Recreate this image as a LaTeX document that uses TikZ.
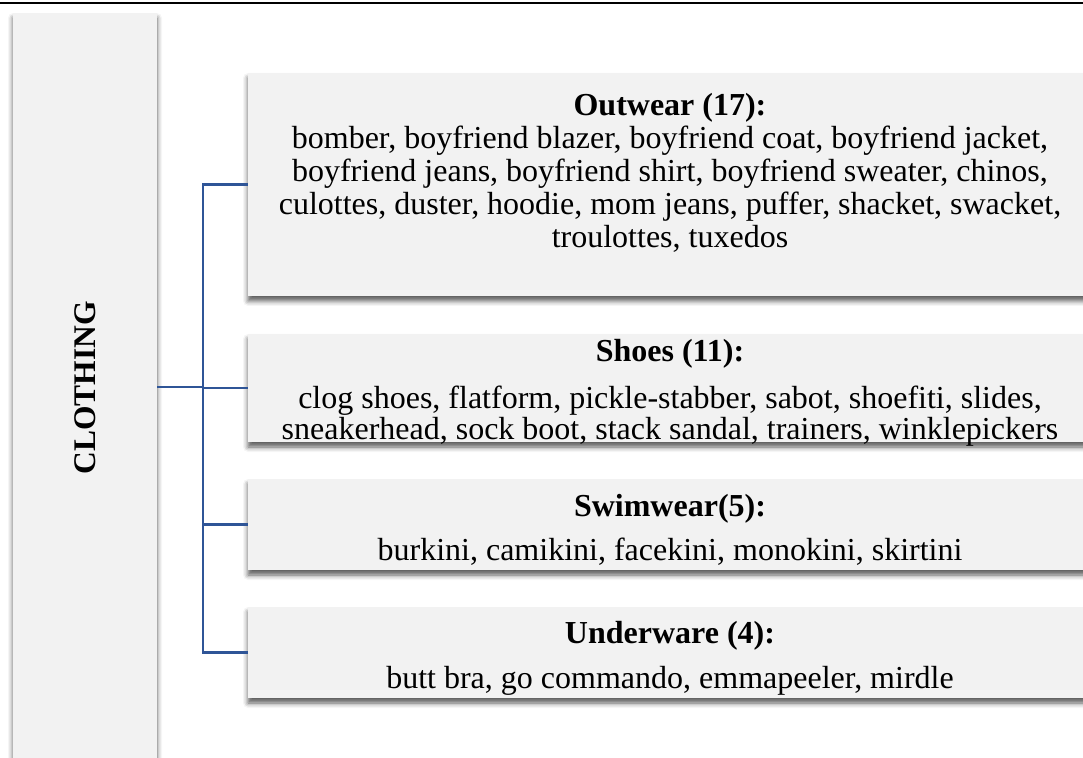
\documentclass[tikz,border=0pt]{standalone}
\usepackage{fontspec}
\setmainfont{Liberation Serif}
\usetikzlibrary{shadows.blur}
\definecolor{branchblue}{RGB}{47,85,151}
\definecolor{boxgray}{RGB}{242,242,242}

\begin{document}
\begin{tikzpicture}[x=0.5pt, y=-0.5pt,
  catbox/.style = {fill=boxgray, inner sep=0pt, minimum width=422pt, blur shadow={shadow xshift=0pt, shadow yshift=-2.5pt, shadow blur radius=2.5pt, shadow opacity=65}},
  cattext/.style = {align=center, inner sep=0pt, font=\fontsize{16}{16.5}\selectfont},
  branch/.style = {draw=branchblue, line width=1.2pt}]
\clip (0,0) rectangle (1083,758);
\useasboundingbox (0,0) rectangle (1083,758);
\draw[line width=1pt] (0,3.5) -- (1083,3.5);

\node[catbox, minimum width=72pt, minimum height=374pt] (clothing) at (85, 387) {};
\node[cattext, rotate=90, font=\fontsize{15.75}{16.5}\selectfont\bfseries] (clothing_txt) at (85, 388) {CLOTHING};

\node[catbox, minimum height=111.5pt] (outwear) at (670, 184.5) {};
\node[catbox, minimum height=54pt] (shoes) at (670, 388) {};
\node[catbox, minimum height=45.5pt] (swimwear) at (670, 524.5) {};
\node[catbox, minimum height=45.5pt] (underware) at (670, 652.5) {};

\node[cattext, anchor=north] (outwear_txt) at (670, 93) {\textbf{Outwear (17):}\\
bomber, boyfriend blazer, boyfriend coat, boyfriend jacket,\\
boyfriend jeans, boyfriend shirt, boyfriend sweater, chinos,\\
culottes, duster, hoodie, mom jeans, puffer, shacket, swacket,\\
troulottes, tuxedos};
\node[cattext, anchor=north] (shoes_txt) at (670, 339) {\textbf{Shoes (11):}\\[7pt]
clog shoes, flatform, pickle-stabber, sabot, shoefiti, slides,\\[-1pt]
sneakerhead, sock boot, stack sandal, trainers, winklepickers};
\node[cattext, anchor=north] (swimwear_txt) at (670, 494) {\textbf{Swimwear(5):}\\[5.5pt]
burkini, camikini, facekini, monokini, skirtini};
\node[cattext, anchor=north] (underware_txt) at (670, 621) {\textbf{Underware (4):}\\[6pt]
butt bra, go commando, emmapeeler, mirdle};

\coordinate (fork) at (203, 387);
\draw[branch] (clothing.east) -- (fork);
\draw[branch] (outwear.west) -- (outwear.west -| fork) -- (underware.west -| fork) -- (underware.west);
\draw[branch] (fork |- shoes.west) -- (shoes.west);
\draw[branch] (fork |- swimwear.west) -- (swimwear.west);
\end{tikzpicture}
\end{document}
